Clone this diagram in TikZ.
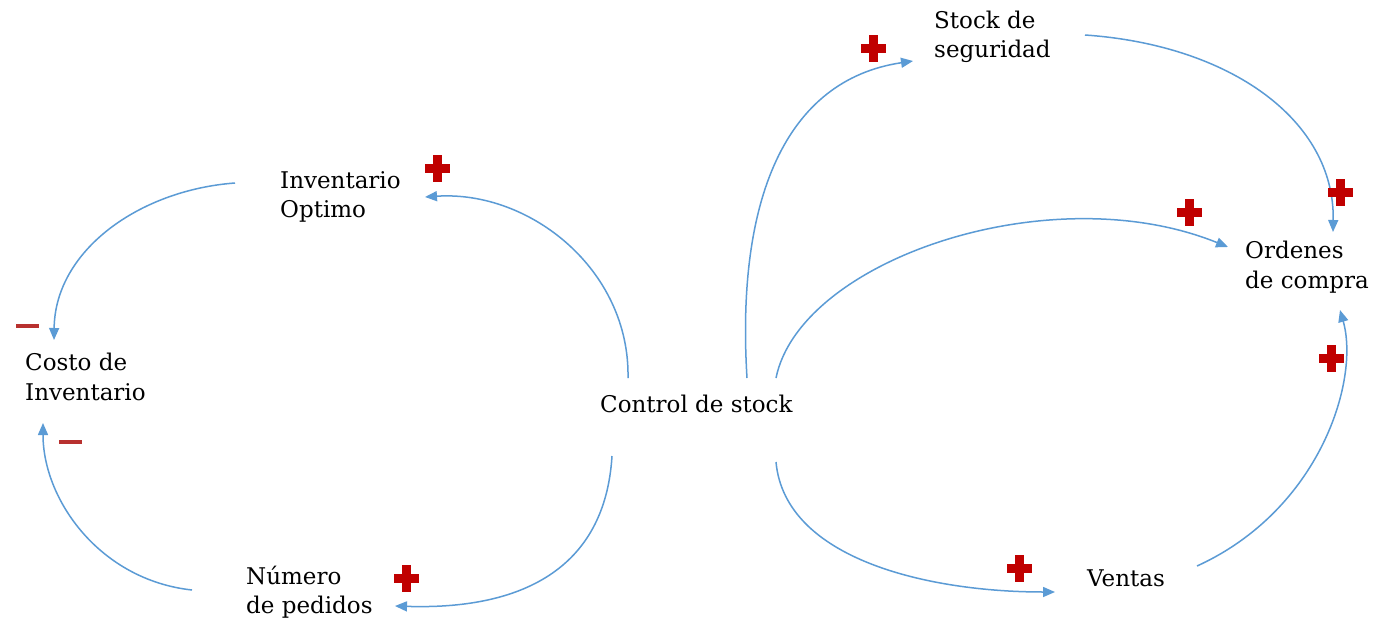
\documentclass[tikz,border=0pt]{standalone}
\usepackage{fontspec}
\setmainfont{DejaVu Serif}
\usetikzlibrary{arrows.meta,calc}
\definecolor{arrowblue}{HTML}{5B9BD5}
\definecolor{plusred}{HTML}{C00000}
\definecolor{minusred}{HTML}{B8312F}
\begin{document}
\begin{tikzpicture}[x=1pt,y=-1pt,
  lbl/.style={anchor=west,inner sep=0pt,align=left,font=\fontsize{23}{29.5}\selectfont},
  link/.style={draw=arrowblue,line width=1.5pt,-{Triangle[length=12pt,width=10pt]}},
  pics/plussign/.style={code={
     \fill[plusred] (-12.5,-4.5) rectangle (12.5,4.5);
     \fill[plusred] (-4.5,-13.5) rectangle (4.5,13.5);}},
  pics/minussign/.style={code={
     \fill[minusred] (-11.5,-2.3) rectangle (11.5,2.3);}}
]
\useasboundingbox (0,0) rectangle (1378,626);
\fill[white] (0,0) rectangle (1378,626);

\node[lbl] (inv)  at (280,197) {Inventario\\Optimo};
\node[lbl] (cos)  at (25,377)  {Costo de\\Inventario};
\node[lbl] (ctrl) at (600,404) {Control de stock};
\node[lbl] (num)  at (246,592) {Número\\de pedidos};
\node[lbl] (stk)  at (934,37)  {Stock de\\seguridad};
\node[lbl] (ord)  at (1245,267) {Ordenes\\de compra};
\node[lbl] (ven)  at (1087,578) {Ventas};

% connectors
\draw[link] ([shift={(28,-26)}]ctrl.west) .. controls (630,270) and (530,190) .. ([shift={(145,0)}]inv.west);
\draw[link] ([shift={(-45,-14)}]inv.west) .. controls (140,190) and (55,250) .. ([shift={(29,-37)}]cos.west);
\draw[link] ([shift={(12,52)}]ctrl.west) .. controls (605,570) and (520,610) .. ([shift={(149,14)}]num.west);
\draw[link] ([shift={(-54,-2)}]num.west) .. controls (100,580) and (43,500) .. ([shift={(18,46)}]cos.west);
\draw[link] ([shift={(147,-26)}]ctrl.west) .. controls (736,200) and (785,80) .. ([shift={(-21,24)}]stk.west);
\draw[link] ([shift={(151,-2)}]stk.west) .. controls (1230,45) and (1335,120) .. ([shift={(88,-35)}]ord.west);
\draw[link] ([shift={(176,-26)}]ctrl.west) .. controls (800,260) and (1050,175) .. ([shift={(-17,-20)}]ord.west);
\draw[link] ([shift={(176,58)}]ctrl.west) .. controls (785,560) and (930,592) .. ([shift={(-32,14)}]ven.west);
\draw[link] ([shift={(110,-12)}]ven.west) .. controls (1320,510) and (1360,380) .. ([shift={(95,43)}]ord.west);

% polarity signs
\pic at (437,168) {plussign};
\pic at (873,49) {plussign};
\pic at (1189,212) {plussign};
\pic at (1340,192) {plussign};
\pic at (1331,358) {plussign};
\pic at (1019,568) {plussign};
\pic at (406,578) {plussign};
\pic at (27,326) {minussign};
\pic at (70,442) {minussign};
\end{tikzpicture}
\end{document}
